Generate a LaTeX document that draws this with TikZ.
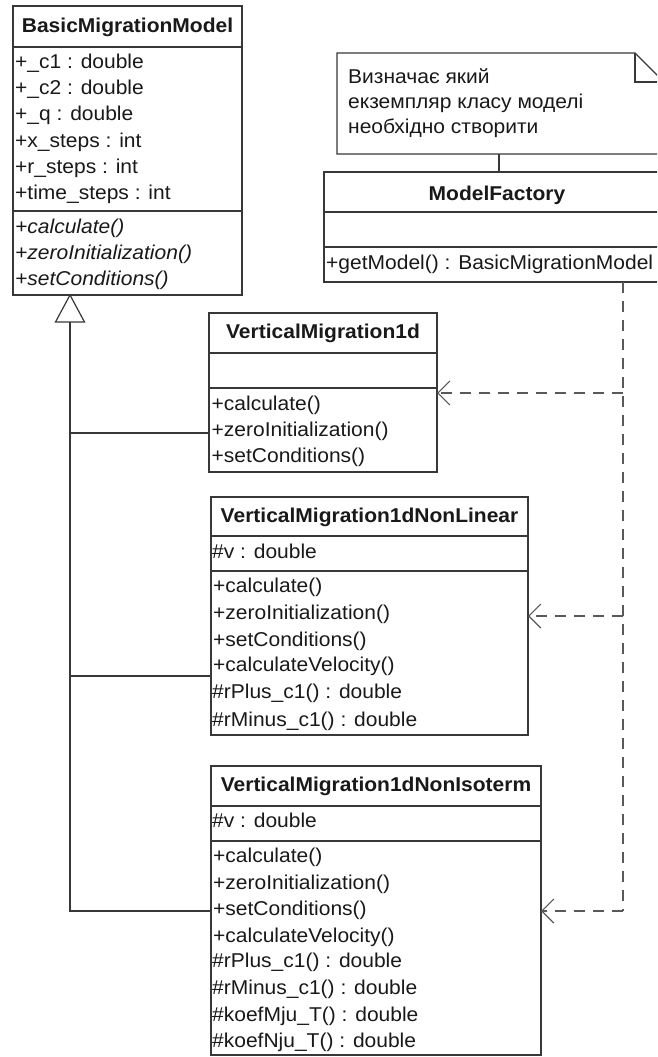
\documentclass[tikz,border=0pt]{standalone}
\usepackage{fontspec}
\setmainfont{Liberation Sans}[FakeStretch=1.05]
\usetikzlibrary{arrows.meta}
\definecolor{linec}{gray}{0.22}
\definecolor{depc}{gray}{0.35}
\definecolor{txtc}{gray}{0.1}
\begin{document}
\begin{tikzpicture}[x=1pt,y=-1pt,
  font=\fontsize{20}{26}\selectfont,
  box/.style={draw=linec,line width=1.2pt,fill=white,inner sep=0pt,outer sep=0pt,anchor=north west,rectangle},
  sepline/.style={draw=linec,line width=1.2pt},
  ttl/.style={font=\fontsize{20}{26}\selectfont\bfseries,anchor=base,inner sep=0pt,text=txtc},
  mem/.style={anchor=base west,inner sep=0pt,text=txtc},
  abs/.style={mem,font=\fontsize{20}{26}\selectfont\itshape},
  genline/.style={draw=linec,line width=1.2pt},
  depline/.style={draw=depc,line width=1.2pt,dash pattern=on 11pt off 8pt},
  deparrow/.style={depline,-{Straight Barb[length=12pt,width=24pt,line width=1.2pt]}},
  notebox/.style={draw=linec,line width=1.2pt,fill=white}
]
\useasboundingbox (0,0) rectangle (657,1057);
\clip (0,0) rectangle (657,1057);

% ---------- BasicMigrationModel ----------
\node[box,minimum width=229pt,minimum height=289pt] (bmm) at (13,6) {};
\draw[sepline] (bmm.north west |- 0,47) -- (bmm.north east |- 0,47);
\draw[sepline] (bmm.north west |- 0,211) -- (bmm.north east |- 0,211);
\node[ttl] (bmmt) at (127.5,32.5) {BasicMigrationModel};
\node[mem] (bmma1) at (15,68.5) {+\_c1 : double};
\node[mem] (bmma2) at (15,94.7) {+\_c2 : double};
\node[mem] (bmma3) at (15,120.9) {+\_q : double};
\node[mem] (bmma4) at (15,147.1) {+x\_steps : int};
\node[mem] (bmma5) at (15,173.3) {+r\_steps : int};
\node[mem] (bmma6) at (15,199.5) {+time\_steps : int};
\node[abs] (bmmm1) at (15,233.5) {+calculate()};
\node[abs] (bmmm2) at (15,259.7) {+zeroInitialization()};
\node[abs] (bmmm3) at (15,285.9) {+setConditions()};

% ---------- Note ----------
\draw[notebox] (337,53) -- (635,53) -- (664,82) -- (664,154) -- (337,154) -- cycle;
\draw[sepline] (635,53) -- (635,82) -- (664,82);
\coordinate (notebot) at (499,154);
\node[mem] (n1) at (348,83.3) {Визначає який};
\node[mem] (n2) at (348,108.3) {екземпляр класу моделі};
\node[mem] (n3) at (348,133.3) {необхідно створити};

% ---------- ModelFactory ----------
\node[box,minimum width=346pt,minimum height=110pt] (mf) at (324,172) {};
\draw[sepline] (mf.north west |- 0,212) -- (mf.north east |- 0,212);
\draw[sepline] (mf.north west |- 0,247) -- (mf.north east |- 0,247);
\node[ttl] (mft) at (497,200) {ModelFactory};
\node[mem] (mfm1) at (326,269.5) {+getModel() : BasicMigrationModel};
\draw[genline] (notebot) -- (mf.north -| notebot);

% ---------- VerticalMigration1d ----------
\node[box,minimum width=228pt,minimum height=159pt] (vm) at (209,313) {};
\draw[sepline] (vm.north west |- 0,353) -- (vm.north east |- 0,353);
\draw[sepline] (vm.north west |- 0,388) -- (vm.north east |- 0,388);
\node[ttl] (vmt) at (323,338.3) {VerticalMigration1d};
\node[mem] (vmm1) at (211.5,410) {+calculate()};
\node[mem] (vmm2) at (211.5,436.7) {+zeroInitialization()};
\node[mem] (vmm3) at (211.5,462.7) {+setConditions()};

% ---------- VerticalMigration1dNonLinear ----------
\node[box,minimum width=317pt,minimum height=238pt] (nl) at (211,497) {};
\draw[sepline] (nl.north west |- 0,536) -- (nl.north east |- 0,536);
\draw[sepline] (nl.north west |- 0,571) -- (nl.north east |- 0,571);
\node[ttl] (nlt) at (369.5,522.3) {VerticalMigration1dNonLinear};
\node[mem] (nla1) at (212,558.3) {\#v : double};
\node[mem] (nlm1) at (213,592.7) {+calculate()};
\node[mem] (nlm2) at (213,619.3) {+zeroInitialization()};
\node[mem] (nlm3) at (213,646) {+setConditions()};
\node[mem] (nlm4) at (213,671.7) {+calculateVelocity()};
\node[mem] (nlm5) at (212,698.3) {\#rPlus\_c1() : double};
\node[mem] (nlm6) at (212,726) {\#rMinus\_c1() : double};

% ---------- VerticalMigration1dNonIsoterm ----------
\node[box,minimum width=330pt,minimum height=289pt] (ni) at (211,766) {};
\draw[sepline] (ni.north west |- 0,806) -- (ni.north east |- 0,806);
\draw[sepline] (ni.north west |- 0,841) -- (ni.north east |- 0,841);
\node[ttl] (nit) at (376,791.7) {VerticalMigration1dNonIsoterm};
\node[mem] (nia1) at (212,827.3) {\#v : double};
\node[mem] (nim1) at (213,862.3) {+calculate()};
\node[mem] (nim2) at (213,889) {+zeroInitialization()};
\node[mem] (nim3) at (213,915.7) {+setConditions()};
\node[mem] (nim4) at (213,942.3) {+calculateVelocity()};
\node[mem] (nim5) at (212,967.7) {\#rPlus\_c1() : double};
\node[mem] (nim6) at (212,994.3) {\#rMinus\_c1() : double};
\node[mem] (nim7) at (212,1021) {\#koefMju\_T() : double};
\node[mem] (nim8) at (212,1047.7) {\#koefNju\_T() : double};

% ---------- Generalization ----------
\coordinate (apex) at (70,295);
\coordinate (tribase) at (70,322);
\coordinate (g1) at (70,433);
\coordinate (g2) at (70,676);
\coordinate (g3) at (70,911);
\draw[genline,fill=white] (apex) -- (84.5,322) -- (55.5,322) -- cycle;
\draw[genline] (tribase) -- (g3) -- (ni.west |- g3);
\draw[genline] (g1) -- (vm.west |- g1);
\draw[genline] (g2) -- (nl.west |- g2);

% ---------- Dependencies ----------
\coordinate (dtop) at (623,282);
\coordinate (d1) at (623,393);
\coordinate (d2) at (623,616);
\coordinate (d3) at (623,911);
\draw[depline] (mf.south -| dtop) -- (d3);
\draw[deparrow] (d1) -- (vm.east |- d1);
\draw[deparrow] (d2) -- (nl.east |- d2);
\draw[deparrow] (d3) -- (ni.east |- d3);
\end{tikzpicture}
\end{document}
